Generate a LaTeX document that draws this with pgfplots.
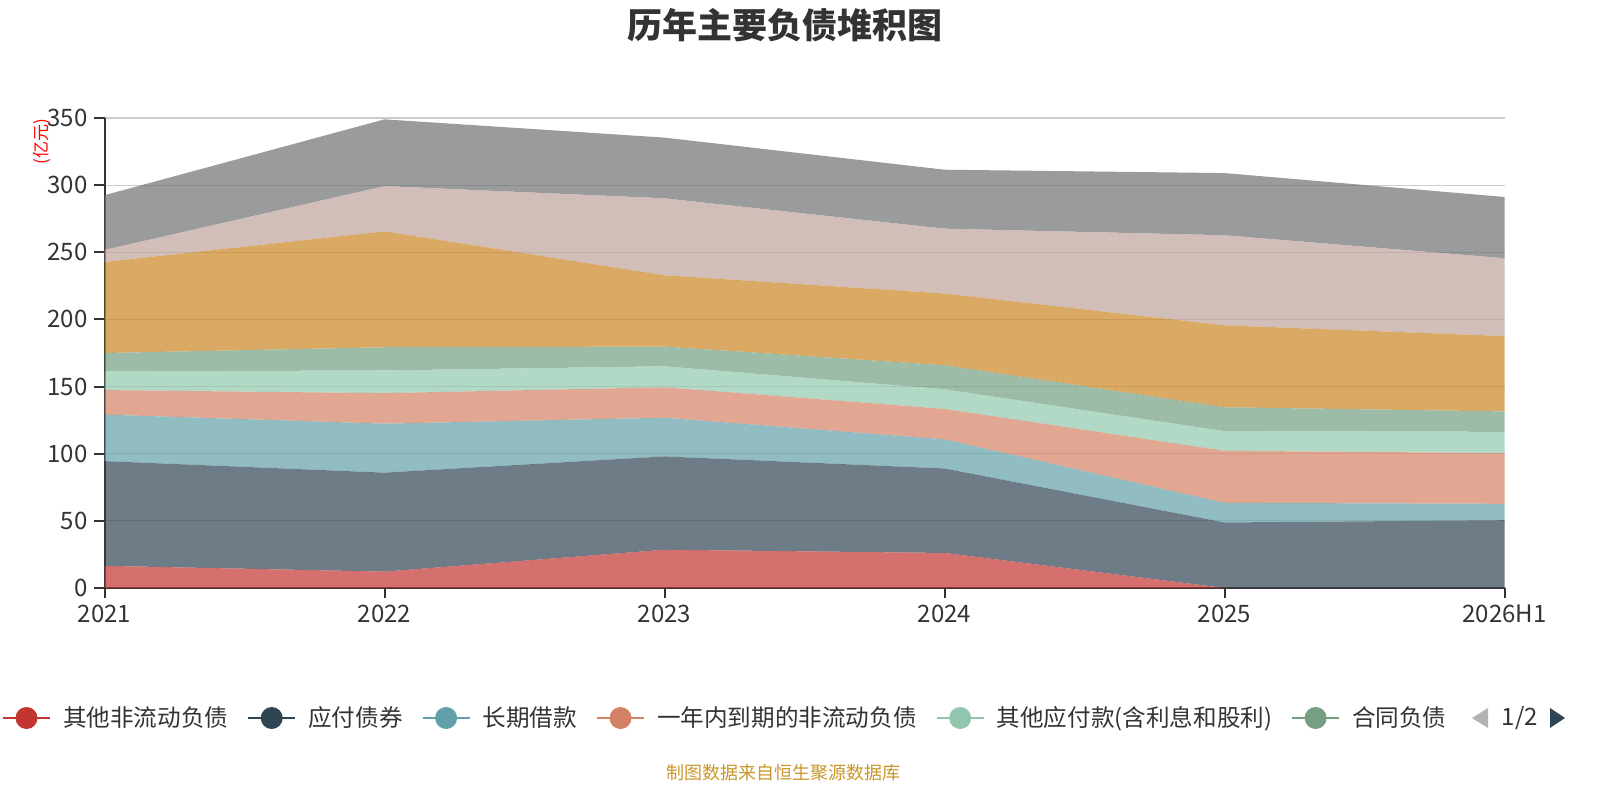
\documentclass[border=0pt]{standalone}
\usepackage{fontspec}
\setmainfont{Noto Sans CJK SC}
\usepackage{pgfplots}
\usepackage{pgfplotstable}
\pgfplotsset{compat=1.18}
\definecolor{c1}{HTML}{C23531}
\definecolor{c2}{HTML}{2F4554}
\definecolor{c3}{HTML}{61A0A8}
\definecolor{c4}{HTML}{D48265}
\definecolor{c5}{HTML}{91C7AE}
\definecolor{c6}{HTML}{749F83}
\definecolor{c7}{HTML}{CA8622}
\definecolor{c8}{HTML}{BDA29A}
\definecolor{c9}{HTML}{6E7074}
\definecolor{txt}{HTML}{333333}
\definecolor{gridc}{HTML}{CCCCCC}
\definecolor{srcc}{HTML}{C9962B}

\pgfplotstableread{
x  a     b     c     d     e     f     g     h     i
0  16.5  78.0  34.6  18.3  13.9  13.7  67.8  9.0   40.7
1  12.2  73.7  36.5  22.7  16.9  17.3  86.3  33.7  49.7
2  28.5  69.5  28.8  22.7  15.6  14.7  53.1  57.3  45.2
3  26.1  62.9  21.7  22.7  14.6  17.9  53.4  48.3  43.9
4  0.0   48.8  14.6  38.8  14.6  17.8  61.0  67.1  46.3
5  0.0   50.5  12.2  37.8  15.8  15.2  56.1  58.0  45.6
}\datatable

\pgfplotsset{
  legimg/.style={legend image code/.code={
    \draw[line width=1pt,draw=#1,draw opacity=1] (0pt,0pt) -- (23.5pt,0pt);
    \fill[#1,fill opacity=1] (11.75pt,0pt) circle (5.5pt);}},
  ar/.style={fill=#1,fill opacity=0.7,draw=none,legimg=#1},
}

\begin{document}
\begin{tikzpicture}
\useasboundingbox (0,0) rectangle (800pt,400pt);
\begin{axis}[
  at={(52.25pt,106pt)}, anchor=south west,
  scale only axis, width=700pt, height=235pt,
  xmin=0, xmax=5, ymin=0, ymax=350,
  xtick={0,1,2,3,4,5},
  xticklabels={2021,2022,2023,2024,2025,2026H1},
  ytick={0,50,...,350},
  stack plots=y,
  axis x line*=bottom, axis y line*=left,
  axis line style={txt,line width=1pt,-},
  tick style={txt,line width=1pt},
  tick align=outside, major tick length=5pt,
  ymajorgrids, grid style={gridc,line width=0.6pt},
  tick label style={font=\fontsize{12}{14}\selectfont,text=txt},
  /pgf/number format/assume math mode=true,
  ylabel={(亿元)},
  every axis y label/.style={at={(axis description cs:-0.0446,0.949)},rotate=90,anchor=center,font=\fontsize{8.5}{10}\selectfont,text=red},
  legend style={at={(axis description cs:-0.0732,-0.2766)}, anchor=west, draw=none, fill=none,
    inner sep=0pt, outer sep=0pt, font=\fontsize{11.8}{14}\selectfont, text=txt,
    /tikz/every odd column/.append style={column sep=6pt},
    /tikz/every even column/.append style={column sep=9.5pt},
    nodes={inner sep=0pt}},
  legend columns=6, legend cell align=left,
]
\addplot[ar=c1] table[x=x,y=a] {\datatable} \closedcycle;
\addplot[ar=c2] table[x=x,y=b] {\datatable} \closedcycle;
\addplot[ar=c3] table[x=x,y=c] {\datatable} \closedcycle;
\addplot[ar=c4] table[x=x,y=d] {\datatable} \closedcycle;
\addplot[ar=c5] table[x=x,y=e] {\datatable} \closedcycle;
\addplot[ar=c6] table[x=x,y=f] {\datatable} \closedcycle;
\addplot[ar=c7] table[x=x,y=g] {\datatable} \closedcycle;
\addplot[ar=c8] table[x=x,y=h] {\datatable} \closedcycle;
\addplot[ar=c9] table[x=x,y=i] {\datatable} \closedcycle;
\legend{其他非流动负债,应付债券,长期借款,一年内到期的非流动负债,其他应付款(含利息和股利),合同负债}
\end{axis}
\node[font=\fontsize{17.5}{20}\selectfont\bfseries,text=txt] at (392.5pt,387.5pt) {历年主要负债堆积图};
\fill[gray!60] (736pt,41pt) -- (744pt,46pt) -- (744pt,36pt) -- cycle;
\node[font=\fontsize{12}{14}\selectfont,text=txt] at (760pt,41pt) {1/2};
\fill[c2] (782.5pt,41pt) -- (775pt,46pt) -- (775pt,36pt) -- cycle;
\node[font=\fontsize{9}{11}\selectfont,text=srcc] at (391.5pt,13.5pt) {制图数据来自恒生聚源数据库};
\end{tikzpicture}
\end{document}
